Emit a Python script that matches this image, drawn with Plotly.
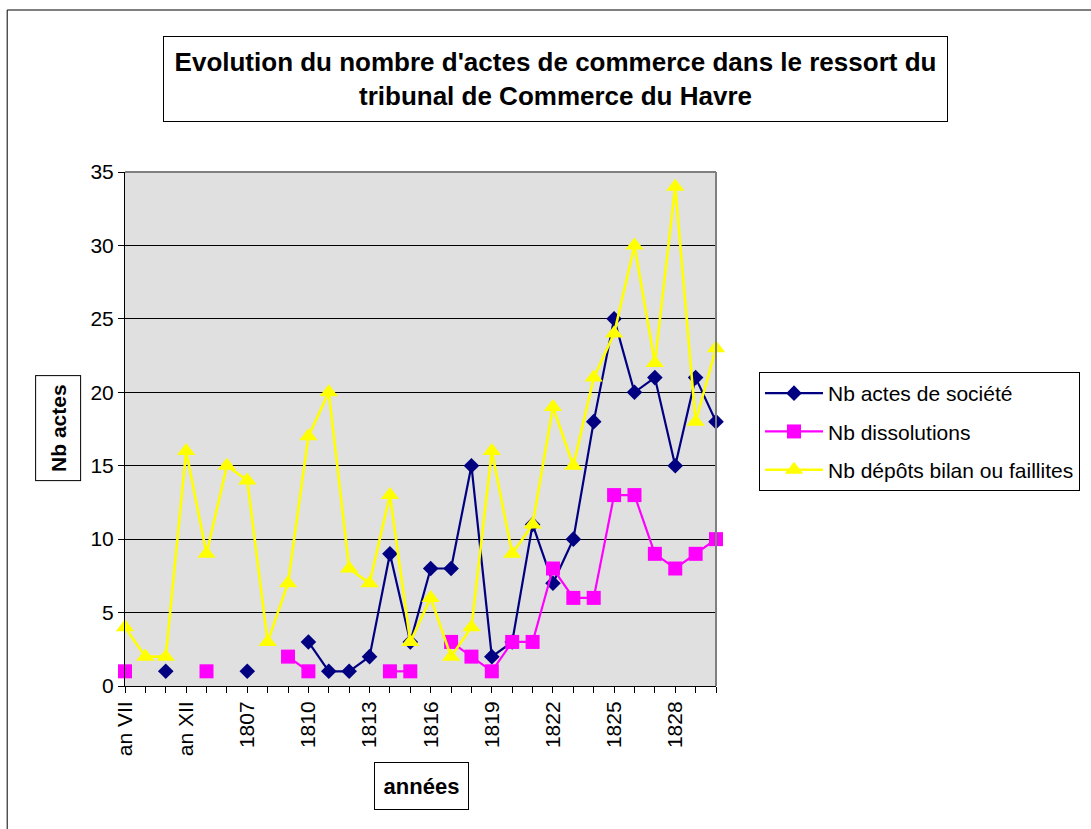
import plotly.graph_objects as go

# Years of the Le Havre commercial court register (revolutionary calendar, then Gregorian)
annees = ["an VII", "an X", "an XI", "an XII", "an XIII", "an XIV",
          "1807", "1808", "1809", "1810", "1811", "1812", "1813", "1814",
          "1815", "1816", "1817", "1818", "1819", "1820", "1821", "1822",
          "1823", "1824", "1825", "1826", "1827", "1828", "1829", "1830"]
labels_affiches = {"an VII", "an XII", "1807", "1810", "1813", "1816",
                   "1819", "1822", "1825", "1828"}

actes_societe = [None, None, 1, None, None, None, 1, None, None, 3,
                 1, 1, 2, 9, 3, 8, 8, 15, 2, 3,
                 11, 7, 10, 18, 25, 20, 21, 15, 21, 18]
dissolutions = [1, None, None, None, 1, None, None, None, 2, 1,
                None, None, None, 1, 1, None, 3, 2, 1, 3,
                3, 8, 6, 6, 13, 13, 9, 8, 9, 10]
depots_faillites = [4, 2, 2, 16, 9, 15, 14, 3, 7, 17,
                    20, 8, 7, 13, 3, 6, 2, 4, 16, 9,
                    11, 19, 15, 21, 24, 30, 22, 34, 18, 23]

W, H = 1091, 829
L, R, T, B = 125, 717, 172, 686   # plot area in pixels


def px(x):
    return (x - L) / (R - L)


def py(y):
    return (B - y) / (B - T)


FONT = "Liberation Sans, Arial, sans-serif"

fig = go.Figure()
series = [
    ("Nb actes de société", actes_societe, "#000080", "diamond", 12, 2.2),
    ("Nb dissolutions", dissolutions, "#FF00FF", "square", 14, 2.2),
    ("Nb dépôts bilan ou faillites", depots_faillites, "#FFFF00", "triangle-up", 16, 2.6),
]
for i, (name, vals, col, sym, size, lw) in enumerate(series):
    fig.add_trace(go.Scatter(
        x=annees, y=vals, name=name, mode="lines+markers",
        line=dict(color=col, width=lw),
        marker=dict(symbol=sym, size=size, color=col, line=dict(width=0)),
        connectgaps=False, cliponaxis=False, legendgroup=f"g{i}",
    ))

fig.update_layout(
    width=W, height=H,
    margin=dict(l=L, r=W - R, t=T, b=H - B),
    paper_bgcolor="white", plot_bgcolor="#E0E0E0",
    font=dict(family=FONT, size=20, color="black"),
    showlegend=True,
    legend=dict(
        x=px(759), y=py(372), xanchor="left", yanchor="top",
        bordercolor="black", borderwidth=1, bgcolor="white",
        font=dict(family=FONT, size=21, color="black"),
        tracegroupgap=8, itemwidth=58,
    ),
    xaxis=dict(
        type="category", range=[0, len(annees) - 1],
        tickmode="array", tickvals=annees,
        ticktext=[a if a in labels_affiches else "" for a in annees],
        tickangle=-90, ticks="outside", ticklen=6, tickcolor="black",
        showline=True, linecolor="black", linewidth=1,
        showgrid=False, zeroline=False,
        tickfont=dict(family=FONT, size=21, color="black"),
    ),
    yaxis=dict(
        range=[0, 35], dtick=5, ticks="outside", ticklen=6, tickcolor="black",
        showline=True, linecolor="black", linewidth=1,
        showgrid=True, gridcolor="black", gridwidth=1, zeroline=False,
        tickfont=dict(family=FONT, size=21, color="black"),
    ),
)

# Plot area frame (grey on top and right side)
fig.add_shape(type="line", xref="paper", yref="paper", x0=0, x1=1, y0=1, y1=1,
              line=dict(color="#808080", width=2), layer="above")
fig.add_shape(type="line", xref="paper", yref="paper", x0=1, x1=1, y0=0, y1=1,
              line=dict(color="#808080", width=2), layer="above")

# Outer chart frame
fig.add_shape(type="rect", xref="paper", yref="paper",
              x0=px(7), x1=px(W + 10), y0=py(10), y1=py(H + 10),
              line=dict(color="black", width=1), layer="below")

# Title box
fig.add_annotation(
    xref="paper", yref="paper", x=px(556), y=py(79),
    xanchor="center", yanchor="middle",
    text="<b>Evolution du nombre d'actes de commerce dans le ressort du<br>"
         "tribunal de Commerce du Havre</b>",
    showarrow=False, align="center",
    font=dict(family=FONT, size=26, color="black"),
    bordercolor="black", borderwidth=1, borderpad=6, bgcolor="white",
    width=771, height=72,
)

# Axis title boxes
fig.add_annotation(
    xref="paper", yref="paper", x=px(58), y=py(428),
    xanchor="center", yanchor="middle",
    text="<b>Nb actes</b>", textangle=-90, showarrow=False,
    font=dict(family=FONT, size=21, color="black"),
    bordercolor="black", borderwidth=1, borderpad=0, bgcolor="white",
    width=104, height=44,
)
fig.add_annotation(
    xref="paper", yref="paper", x=px(422), y=py(786),
    xanchor="center", yanchor="middle",
    text="<b>années</b>", showarrow=False,
    font=dict(family=FONT, size=22, color="black"),
    bordercolor="black", borderwidth=1, borderpad=0, bgcolor="white",
    width=93, height=46,
)

fig.write_html("out.html")
